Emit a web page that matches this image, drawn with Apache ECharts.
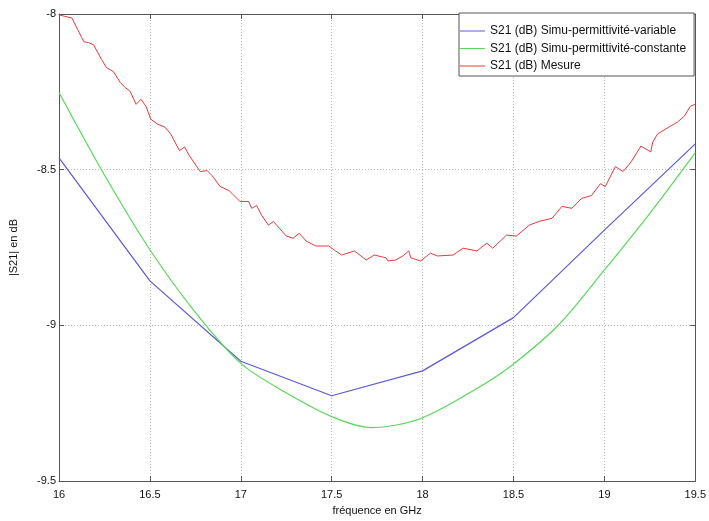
<!DOCTYPE html>
<html>
<head>
<meta charset="utf-8">
<script src="https://cdn.jsdelivr.net/npm/echarts@6/dist/echarts.min.js"></script>
<style>html,body{margin:0;padding:0;background:#fff}#c{width:709px;height:521px}</style>
</head>
<body>
<div id="c"></div>
<script>
var xTicks = [16, 16.5, 17, 17.5, 18, 18.5, 19, 19.5];
var yTicks = [-9.5, -9, -8.5, -8];

var varFreq = [16, 16.5, 17, 17.5, 18, 18.5, 19, 19.5];
var varVals = [-8.462, -8.857, -9.115, -9.226, -9.146, -8.975, -8.694, -8.417];

var constFreq = [16, 16.25, 16.5, 16.75, 17, 17.23, 17.5, 17.72, 17.99, 18.315, 18.5, 18.75, 19, 19.25, 19.5];
var constVals = [-8.252, -8.517, -8.757, -8.958, -9.122, -9.21, -9.293, -9.328, -9.299, -9.197, -9.124, -8.997, -8.822, -8.64, -8.445];

var mesFreq = [16.000, 16.071, 16.125, 16.136, 16.163, 16.190, 16.234, 16.261, 16.299, 16.337, 16.364, 16.391, 16.424, 16.451, 16.478, 16.505, 16.543, 16.582, 16.614, 16.663, 16.690, 16.717, 16.777, 16.815, 16.842, 16.886, 16.935, 16.951, 16.995, 17.043, 17.060, 17.087, 17.114, 17.152, 17.179, 17.212, 17.250, 17.288, 17.321, 17.359, 17.413, 17.451, 17.484, 17.522, 17.554, 17.625, 17.690, 17.734, 17.799, 17.810, 17.853, 17.891, 17.924, 17.935, 17.989, 18.043, 18.082, 18.168, 18.223, 18.299, 18.353, 18.386, 18.462, 18.516, 18.587, 18.641, 18.712, 18.766, 18.821, 18.875, 18.929, 18.978, 19.005, 19.060, 19.103, 19.147, 19.201, 19.255, 19.266, 19.293, 19.364, 19.402, 19.440, 19.473, 19.500];
var mesVals = [-8.003, -8.013, -8.076, -8.089, -8.092, -8.099, -8.146, -8.172, -8.185, -8.220, -8.236, -8.248, -8.290, -8.274, -8.296, -8.338, -8.354, -8.363, -8.385, -8.439, -8.427, -8.455, -8.506, -8.503, -8.519, -8.554, -8.567, -8.576, -8.602, -8.602, -8.624, -8.615, -8.646, -8.678, -8.666, -8.688, -8.713, -8.720, -8.704, -8.729, -8.745, -8.745, -8.745, -8.761, -8.774, -8.761, -8.790, -8.774, -8.783, -8.793, -8.790, -8.777, -8.761, -8.783, -8.793, -8.768, -8.777, -8.774, -8.752, -8.761, -8.736, -8.752, -8.710, -8.713, -8.678, -8.666, -8.656, -8.618, -8.624, -8.592, -8.583, -8.545, -8.554, -8.490, -8.506, -8.475, -8.424, -8.443, -8.411, -8.385, -8.360, -8.347, -8.328, -8.296, -8.290];

var seriesNames = ['S21 (dB) Simu-permittivité-variable', 'S21 (dB) Simu-permittivité-constante', 'S21 (dB) Mesure'];
var seriesColors = ['#5a5ad8', '#5ad85a', '#e83a3a'];

function zip(a, b) { return a.map(function (v, i) { return [v, b[i]]; }); }

var font = 'Liberation Sans, Arial, Helvetica, sans-serif';
var chart = echarts.init(document.getElementById('c'));
var gridLine = { show: true, lineStyle: { color: '#b8b8b8', type: [1, 2], width: 1 } };
var axLine = { show: true, lineStyle: { color: '#555', width: 1 } };
var tick = { show: true, inside: true, length: 5, lineStyle: { color: '#555' } };

chart.setOption({
  animation: false,
  backgroundColor: '#fff',
  grid: { left: 54, right: 11, top: 14, bottom: 36, containLabel: false },
  legend: {
    left: 459, top: 13, orient: 'vertical',
    backgroundColor: '#fff', borderColor: '#555', borderWidth: 1,
    padding: [11, 8, 3, 1], itemGap: 3.5, itemWidth: 25, itemHeight: 1,
    icon: 'rect',
    textStyle: { fontFamily: font, fontSize: 12, color: '#111', lineHeight: 14 },
    data: seriesNames
  },
  xAxis: [{
    type: 'value', min: 16, max: 19.5, interval: 0.5,
    name: 'fréquence en GHz', nameLocation: 'middle', nameGap: 23,
    nameTextStyle: { fontFamily: font, fontSize: 11, color: '#111' },
    axisLine: axLine, axisTick: tick, splitLine: gridLine,
    axisLabel: { fontFamily: font, fontSize: 11, color: '#111', margin: 8,
      formatter: function (v) { return String(v); } }
  }, {
    type: 'value', position: 'top', min: 16, max: 19.5, interval: 0.5,
    axisLine: axLine, axisTick: tick, splitLine: { show: false }, axisLabel: { show: false }
  }],
  yAxis: [{
    type: 'value', min: -9.5, max: -8, interval: 0.5,
    name: '|S21| en dB', nameLocation: 'middle', nameGap: 40, nameRotate: 90,
    nameTextStyle: { fontFamily: font, fontSize: 11, color: '#111' },
    axisLine: axLine, axisTick: tick, splitLine: gridLine,
    axisLabel: { fontFamily: font, fontSize: 11, color: '#111', margin: 3,
      formatter: function (v) { return String(v); } }
  }, {
    type: 'value', position: 'right', min: -9.5, max: -8, interval: 0.5,
    axisLine: axLine, axisTick: tick, splitLine: { show: false }, axisLabel: { show: false }
  }],
  series: [
    { name: seriesNames[0], type: 'line', data: zip(varFreq, varVals), showSymbol: false, symbol: 'none',
      lineStyle: { color: seriesColors[0], width: 1.2 }, itemStyle: { color: seriesColors[0] } },
    { name: seriesNames[1], type: 'line', data: zip(constFreq, constVals), showSymbol: false, symbol: 'none', smooth: 0.3,
      lineStyle: { color: seriesColors[1], width: 1.2 }, itemStyle: { color: seriesColors[1] } },
    { name: seriesNames[2], type: 'line', data: zip(mesFreq, mesVals), showSymbol: false, symbol: 'none',
      lineStyle: { color: seriesColors[2], width: 1 }, itemStyle: { color: seriesColors[2] } }
  ]
});
</script>
</body>
</html>
